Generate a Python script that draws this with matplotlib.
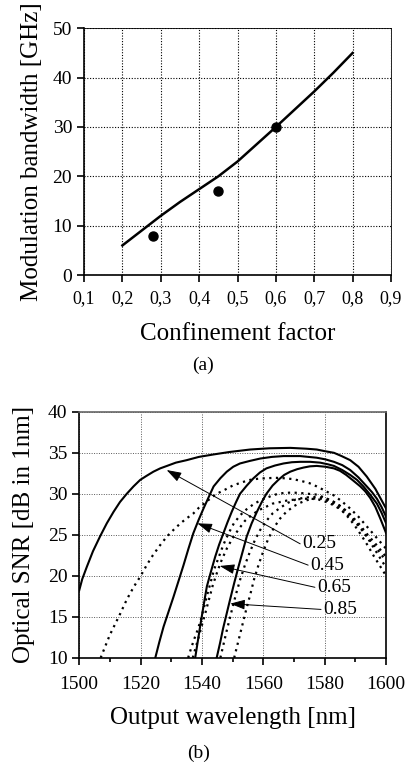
import numpy as np
import matplotlib.pyplot as plt

plt.rcParams['font.family'] = ['Liberation Serif', 'DejaVu Serif']

# (a) modulation bandwidth vs confinement factor
gamma_line = [0.2, 0.25, 0.3, 0.35, 0.4, 0.45, 0.5, 0.55, 0.6, 0.65, 0.7, 0.75, 0.8]
bw_line = [6.0, 9.0, 12.0, 14.8, 17.4, 20.0, 23.0, 26.5, 30.0, 33.6, 37.2, 41.0, 45.0]
gamma_pts = [0.28, 0.45, 0.60]
bw_pts = [8.0, 17.0, 30.0]
xticks_a = [0.1, 0.2, 0.3, 0.4, 0.5, 0.6, 0.7, 0.8, 0.9]
xticklabels_a = ['0,1', '0,2', '0,3', '0,4', '0,5', '0,6', '0,7', '0,8', '0,9']
yticks_a = [0, 10, 20, 30, 40, 50]

# (b) optical SNR vs output wavelength
solid_curves = [
    ([1500, 1501, 1502.5, 1504.5, 1506.8, 1509, 1511.2, 1513.3, 1515.5, 1517.7, 1519.9, 1522, 1524.2,
      1526.4, 1528.6, 1531.5, 1535, 1539, 1543.8, 1549, 1555.7, 1562, 1568.8, 1574, 1577.4, 1580,
      1583, 1585.5, 1588.3, 1591, 1593.7, 1596.5, 1600],
     [18.2, 19.6, 21.1, 23.0, 24.8, 26.4, 27.8, 29.0, 30.0, 30.9, 31.7, 32.2, 32.7,
      33.1, 33.4, 33.8, 34.1, 34.5, 34.8, 35.1, 35.4, 35.55, 35.6, 35.5, 35.4, 35.2,
      35.0, 34.6, 34.1, 33.3, 32.1, 30.6, 28.2]),
    ([1524.8, 1526.1, 1527.5, 1529.1, 1530.7, 1532.4, 1534, 1535.6, 1537.2, 1538.9, 1540.5, 1542.2,
      1543.8, 1546, 1548.1, 1550.2, 1552.4, 1555.5, 1559, 1562.8, 1566.6, 1572, 1577.4, 1580.2,
      1583, 1585.7, 1588.3, 1591, 1593.7, 1595.4, 1597, 1598.5, 1600],
     [10.0, 11.9, 13.8, 15.6, 17.4, 19.4, 21.3, 23.3, 25.2, 26.8, 28.2, 29.6,
      30.9, 31.9, 32.7, 33.3, 33.7, 34.0, 34.3, 34.5, 34.6, 34.6, 34.4, 34.2,
      33.9, 33.5, 32.9, 32.0, 30.9, 30.2, 29.4, 28.4, 27.2]),
    ([1537.8, 1538.6, 1539.4, 1540.5, 1541.6, 1543, 1544.3, 1545.6, 1547, 1548.3, 1549.7, 1551,
      1552.4, 1554.6, 1556.8, 1558.9, 1561, 1563.8, 1566.6, 1569.3, 1572, 1575.2, 1578.5, 1581,
      1583, 1585.7, 1588.3, 1590.5, 1592.6, 1594.8, 1597, 1598.5, 1600],
     [10.0, 11.9, 13.8, 16.3, 18.7, 20.6, 22.3, 23.8, 25.2, 26.5, 27.8, 28.9,
      30.0, 31.0, 31.9, 32.6, 33.1, 33.45, 33.7, 33.85, 33.9, 33.9, 33.8, 33.6,
      33.4, 32.9, 32.3, 31.7, 30.9, 29.9, 28.8, 27.7, 26.4]),
    ([1544.8, 1545.9, 1546.9, 1548, 1549.1, 1550.5, 1551.9, 1553.3, 1554.6, 1556.2, 1557.9, 1559.5,
      1561, 1563, 1564.9, 1566.8, 1568.8, 1571, 1573.1, 1575.2, 1577.4, 1580.2, 1583, 1585,
      1587, 1589, 1591.6, 1593.2, 1594.8, 1596.5, 1598.2, 1600],
     [10.0, 11.8, 13.6, 15.3, 17.0, 19.1, 21.1, 23.0, 24.8, 26.4, 27.8, 29.0,
      30.0, 31.0, 31.7, 32.3, 32.7, 33.0, 33.2, 33.35, 33.4, 33.3, 33.1, 32.8,
      32.3, 31.7, 30.9, 30.3, 29.5, 28.4, 26.9, 25.2]),
]
dotted_curves = [
    ([1507, 1508.5, 1510, 1511.7, 1513.4, 1515, 1516.5, 1518.2, 1519.9, 1522, 1524, 1526.3, 1528.6,
      1531, 1533, 1535, 1537.2, 1539, 1541, 1543, 1544.8, 1547.5, 1550, 1553, 1555.7, 1558.5, 1561,
      1564, 1566.6, 1569.5, 1572, 1575, 1577.4, 1580, 1583, 1585.5, 1588.3, 1591, 1594, 1597, 1600],
     [10.0, 11.4, 12.8, 14.1, 15.4, 16.7, 17.8, 18.9, 19.9, 21.3, 22.5, 23.7, 24.8,
      25.7, 26.4, 27.0, 27.6, 28.3, 28.9, 29.5, 30.0, 30.5, 31.0, 31.4, 31.7, 31.85, 31.9,
      31.95, 31.9, 31.8, 31.6, 31.3, 30.9, 30.4, 29.8, 29.1, 28.2, 27.2, 25.9, 24.6, 23.3]),
    ([1535.5, 1536.5, 1537.5, 1538.6, 1539.6, 1540.7, 1541.8, 1542.9, 1543.9, 1545.5, 1547, 1548.7,
      1550.4, 1552.5, 1554.5, 1556.7, 1559, 1561, 1563, 1564.8, 1566.6, 1569.3, 1572, 1574.7,
      1577.4, 1580.2, 1583, 1585.5, 1588, 1591, 1594, 1597, 1600],
     [10.0, 11.2, 12.3, 13.4, 14.6, 16.2, 17.8, 19.3, 20.7, 22.3, 23.8, 25.2,
      26.4, 27.4, 28.1, 28.7, 29.2, 29.5, 29.8, 30.0, 30.1, 30.15, 30.1, 30.0,
      29.9, 29.5, 29.0, 28.4, 27.6, 26.4, 25.0, 23.7, 22.3]),
    ([1537.0, 1538, 1539.0, 1540, 1541.0, 1542.2, 1543.5, 1545, 1546.5, 1548.2, 1550, 1552, 1554,
      1556.2, 1558.5, 1560.8, 1563, 1565.5, 1568, 1570.5, 1573, 1575.5, 1578, 1580.5, 1583, 1585.5,
      1588, 1591, 1594, 1597, 1600],
     [10.0, 11.3, 12.6, 14.0, 15.3, 17.0, 18.8, 20.5, 22.0, 23.4, 24.6, 25.7, 26.7,
      27.4, 28.0, 28.4, 28.8, 29.0, 29.2, 29.3, 29.4, 29.4, 29.3, 29.0, 28.6, 28.0,
      27.2, 26.1, 24.7, 23.3, 21.8]),
    ([1546.0, 1547, 1548, 1549, 1550, 1551.2, 1552.5, 1554, 1555.5, 1557.2, 1559, 1561, 1563,
      1565.5, 1568, 1570.5, 1573, 1575.2, 1577.5, 1580, 1582, 1584, 1586, 1588, 1590, 1592,
      1594, 1597, 1600],
     [10.0, 11.6, 13.2, 14.7, 16.2, 17.9, 19.6, 21.3, 22.8, 24.3, 25.6, 26.7, 27.6,
      28.3, 28.9, 29.3, 29.5, 29.6, 29.6, 29.5, 29.2, 28.8, 28.2, 27.5, 26.6, 25.7,
      24.6, 22.8, 21.0]),
    ([1550.5, 1551.5, 1552.5, 1553.5, 1554.5, 1555.8, 1557, 1558.5, 1560, 1561.7, 1563.5, 1565.5,
      1567.5, 1570, 1572, 1574, 1576, 1578, 1580, 1582, 1584, 1586, 1588, 1590, 1592, 1594,
      1596, 1598, 1600],
     [10.0, 11.5, 13.0, 14.5, 16.0, 17.8, 19.6, 21.4, 23.0, 24.6, 25.9, 27.0,
      27.8, 28.5, 28.9, 29.2, 29.4, 29.45, 29.3, 29.0, 28.5, 27.8, 27.0, 26.0, 24.9, 23.7,
      22.4, 21.2, 20.0]),
]
fill_labels = ['0.25', '0.45', '0.65', '0.85']
label_xy = [(1572, 23.9), (1574.6, 21.3), (1576.8, 18.6), (1578.8, 15.9)]
arrow_tip = [(1528.5, 32.9), (1538.5, 26.4), (1545.8, 21.2), (1549.2, 16.6)]
xticks_b = [1500, 1520, 1540, 1560, 1580, 1600]
yticks_b = [10, 15, 20, 25, 30, 35, 40]

fig = plt.figure(figsize=(4.06, 7.64), dpi=100)

# ---- panel (a)
ax1 = fig.add_axes([0.207, 0.640, 0.756, 0.323])
ax1.plot(gamma_line, bw_line, color='black', lw=1.8)
ax1.plot(gamma_pts, bw_pts, 'o', color='black', ms=6.5)
ax1.set_xlim(0.1, 0.9)
ax1.set_ylim(0, 50)
ax1.set_xticks(xticks_a)
ax1.set_xticklabels(xticklabels_a)
ax1.set_yticks(yticks_a)
ax1.grid(True, color='black', ls=(0, (1, 1.5)), lw=0.8)
ax1.tick_params(direction='out', length=5, width=1.2, labelsize=14, colors='black')
ax1.tick_params(axis='x', labelsize=13, pad=6)
for s in ax1.spines.values():
    s.set_linewidth(1.2)
ax1.spines['top'].set_linewidth(0.6)
ax1.spines['right'].set_linewidth(0.6)
ax1.set_xlabel('Confinement factor', fontsize=18, labelpad=11)
ax1.set_ylabel('Modulation bandwidth [GHz]', fontsize=18, labelpad=7)
fig.text(0.5, 0.522, '(a)', ha='center', va='center', fontsize=14)

# ---- panel (b)
ax2 = fig.add_axes([0.195, 0.139, 0.756, 0.322])
for xs, ys in solid_curves:
    ax2.plot(xs, ys, color='black', lw=1.5)
for xs, ys in dotted_curves:
    ax2.plot(xs, ys, color='black', lw=1.6, ls=(0, (1, 2)))
for lab, (tx, ty), (ax_, ay) in zip(fill_labels, label_xy, arrow_tip):
    ax2.annotate('', xy=(ax_, ay), xytext=(tx, ty),
                 arrowprops=dict(arrowstyle='-|>,head_length=0.9,head_width=0.3',
                                 color='black', lw=0.7, shrinkA=0, shrinkB=0))
    ax2.text(tx + 0.8, ty, lab, fontsize=14, ha='left', va='center')
ax2.set_xlim(1500, 1600)
ax2.set_ylim(10, 40)
ax2.set_xticks(xticks_b)
ax2.set_xticks(np.arange(1510, 1600, 20), minor=True)
ax2.set_yticks(yticks_b)
ax2.grid(True, color='0.35', ls=(0, (1, 1.5)), lw=0.7)
ax2.tick_params(direction='out', length=5, width=1.2, labelsize=14, colors='black')
ax2.tick_params(axis='x', pad=8)
ax2.tick_params(which='minor', direction='out', length=3, width=1.2)
for s in ax2.spines.values():
    s.set_linewidth(1.2)
ax2.spines['top'].set_color('0.4')
ax2.set_xlabel('Output wavelength [nm]', fontsize=18, labelpad=10)
ax2.set_ylabel('Optical SNR [dB in 1nm]', fontsize=18, labelpad=9)
fig.text(0.49, 0.002, '(b)', ha='center', va='bottom', fontsize=14)

fig.savefig('out.png', dpi=100)
